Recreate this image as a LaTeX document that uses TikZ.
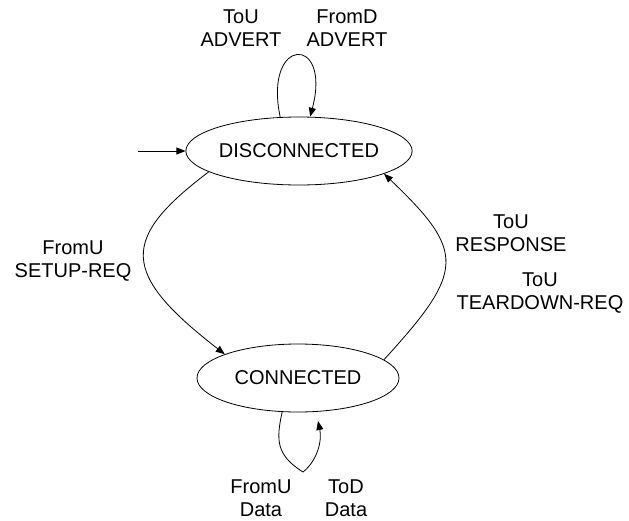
\documentclass[tikz,border=0pt]{standalone}
\usepackage{fontspec}
\setmainfont{Liberation Sans}
\usetikzlibrary{shapes.geometric,arrows.meta}
\begin{document}
\begin{tikzpicture}[x=1pt,y=-1pt,
  every node/.style={font=\fontsize{20}{23}\selectfont},
  state/.style={ellipse,draw,line width=0.8pt,minimum width=202pt,minimum height=68pt,inner sep=0pt},
  lbl/.style={align=center,inner sep=0pt},
  edge/.style={line width=0.8pt,-{Triangle[length=9pt,width=7pt]}}]
\useasboundingbox (0,0) rectangle (629,520);
\node[state] (dis) at (299,151) {DISCONNECTED};
\node[state] (con) at (298,378) {CONNECTED};
\coordinate (init) at (138,151);
\coordinate (cend) at (318,421);
\node[lbl] (l1) at (241,28.5) {ToU\\ADVERT};
\node[lbl] (l2) at (347,28.5) {FromD\\ADVERT};
\node[lbl] (l3) at (73,261.5) {FromU\\SETUP-REQ};
\node[lbl] (l4) at (511,233.5) {ToU\\RESPONSE};
\node[lbl] (l5) at (540,293.5) {ToU\\TEARDOWN-REQ};
\node[lbl] (l6) at (261,498.5) {FromU\\Data};
\node[lbl] (l7) at (346,498.5) {ToD\\Data};
\draw[edge] (init) -- (dis.west);
\draw[edge] (dis.119) .. controls (263,36) and (332,34) .. (dis.72);
\draw[edge] (dis.193) .. controls (120,239) and (120,273) .. (con.162.5);
\draw[edge] (con.12.3) .. controls (465,271) and (466,252) .. (dis.345);
\draw[edge] (con.245) .. controls (276,440) and (276,455) .. (303,472) .. controls (318,460) and (322,440) .. (cend);
\end{tikzpicture}
\end{document}
